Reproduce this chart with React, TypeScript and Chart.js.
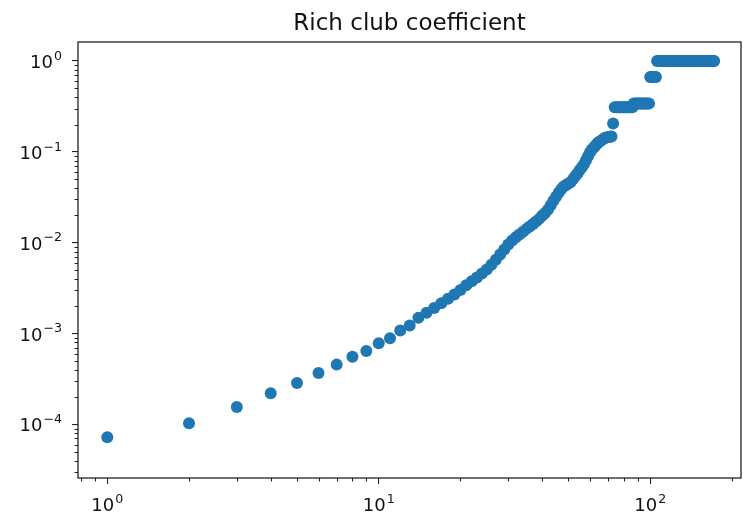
import { useEffect, useRef } from "react";
import { Chart, registerables } from "chart.js";

Chart.register(...registerables);

const chartTitle = "Rich club coefficient";

const degrees = [
  1, 2, 3, 4, 5, 6, 7, 8, 9, 10, 11, 12, 13, 14, 15, 16, 17, 18, 19, 20,
  21, 22, 23, 24, 25, 26, 27, 28, 29, 30, 31, 32, 33, 34, 35, 36, 37, 38, 39, 40,
  41, 42, 43, 44, 45, 46, 47, 48, 49, 50, 51, 52, 53, 54, 55, 56, 57, 58, 59, 60,
  61, 62, 63, 64, 65, 66, 67, 68, 69, 70, 71, 72, 73, 74, 75, 76, 77, 78, 79, 80,
  81, 82, 83, 84, 85, 86, 87, 88, 89, 90, 91, 92, 93, 94, 95, 96, 97, 98, 99, 100,
  101, 102, 103, 104, 105, 106, 107, 108, 109, 110, 111, 112, 113, 114, 115, 116, 117, 118, 119, 120,
  121, 122, 123, 124, 125, 126, 127, 128, 129, 130, 131, 132, 133, 134, 135, 136, 137, 138, 139, 140,
  141, 142, 143, 144, 145, 146, 147, 148, 149, 150, 151, 152, 153, 154, 155, 156, 157, 158, 159, 160,
  161, 162, 163, 164, 165, 166, 167, 168, 169, 170, 171, 172,
];

const richClub = [
  7.2e-5, 1.03e-4, 1.55e-4, 2.2e-4, 2.85e-4, 3.67e-4, 4.55e-4, 5.57e-4, 6.43e-4, 7.8e-4,
  8.9e-4, 1.08e-3, 1.23e-3, 1.49e-3, 1.69e-3, 1.91e-3, 2.15e-3, 2.41e-3, 2.69e-3, 3.01e-3,
  3.41e-3, 3.77e-3, 4.13e-3, 4.58e-3, 5.06e-3, 5.73e-3, 6.5e-3, 7.41e-3, 8.43e-3, 9.55e-3,
  1.06e-2, 1.15e-2, 1.23e-2, 1.32e-2, 1.42e-2, 1.51e-2, 1.61e-2, 1.71e-2, 1.83e-2, 1.98e-2,
  2.13e-2, 2.3e-2, 2.59e-2, 2.9e-2, 3.21e-2, 3.54e-2, 3.88e-2, 4.15e-2, 4.31e-2, 4.48e-2,
  4.67e-2, 5.04e-2, 5.41e-2, 5.82e-2, 6.3e-2, 6.79e-2, 7.33e-2, 8.07e-2, 8.93e-2, 9.89e-2,
  0.106, 0.112, 0.118, 0.125, 0.129, 0.133, 0.138, 0.142, 0.144, 0.146,
  0.147, 0.148, 0.205, 0.31, 0.31, 0.31, 0.31, 0.31, 0.31, 0.31,
  0.31, 0.31, 0.31, 0.31, 0.31, 0.31, 0.34, 0.34, 0.34, 0.34,
  0.34, 0.34, 0.34, 0.34, 0.34, 0.34, 0.34, 0.34, 0.34, 0.667,
  0.667, 0.667, 0.667, 0.667, 0.667, 1, 1, 1, 1, 1,
  1, 1, 1, 1, 1, 1, 1, 1, 1, 1,
  1, 1, 1, 1, 1, 1, 1, 1, 1, 1,
  1, 1, 1, 1, 1, 1, 1, 1, 1, 1,
  1, 1, 1, 1, 1, 1, 1, 1, 1, 1,
  1, 1, 1, 1, 1, 1, 1, 1, 1, 1,
  1, 1, 1, 1, 1, 1, 1, 1, 1, 1,
  1, 1,
];

const xTickValues = [1, 10, 100];
const xTickExponents = ["0", "1", "2"];
const yTickValues = [1e-4, 1e-3, 1e-2, 1e-1, 1];
const yTickExponents = ["\u22124", "\u22123", "\u22122", "\u22121", "0"];

const X_MIN = 0.78;
const X_MAX = 216;
const Y_MIN = 2.57e-5;
const Y_MAX = 1.62;

const FONT = "'DejaVu Sans', sans-serif";
const AXIS_COLOR = "#222";
const TEXT_COLOR = "#111";
const BASE_SIZE = 18;
const SUP_SIZE = 12.6;

function drawPower(ctx: CanvasRenderingContext2D, exp: string, x: number, baseline: number, align: "right" | "center") {
  ctx.font = `${BASE_SIZE}px ${FONT}`;
  const wb = ctx.measureText("10").width;
  ctx.font = `${SUP_SIZE}px ${FONT}`;
  const we = ctx.measureText(exp).width;
  const total = wb + we + 1;
  const start = align === "right" ? x - total : x - total / 2;
  ctx.textAlign = "left";
  ctx.textBaseline = "alphabetic";
  ctx.font = `${BASE_SIZE}px ${FONT}`;
  ctx.fillText("10", start, baseline);
  ctx.font = `${SUP_SIZE}px ${FONT}`;
  ctx.fillText(exp, start + wb + 1, baseline - 0.46 * BASE_SIZE);
}

const frameTicksLabels = {
  id: "frameTicksLabels",
  afterDraw(chart: any) {
    const { ctx, chartArea: a, scales } = chart;
    const xs = scales.x;
    const ys = scales.y;
    const minorLen = 3.5;
    ctx.save();
    ctx.strokeStyle = AXIS_COLOR;
    ctx.lineWidth = 1.1;
    ctx.beginPath();
    for (let e = -1; e <= 3; e++) {
      for (let m = 2; m <= 9; m++) {
        const v = m * Math.pow(10, e);
        if (v < X_MIN || v > X_MAX) continue;
        const px = Math.round(xs.getPixelForValue(v)) + 0.5;
        ctx.moveTo(px, a.bottom);
        ctx.lineTo(px, a.bottom + minorLen);
      }
    }
    for (let e = -6; e <= 0; e++) {
      for (let m = 2; m <= 9; m++) {
        const v = m * Math.pow(10, e);
        if (v < Y_MIN || v > Y_MAX) continue;
        const py = Math.round(ys.getPixelForValue(v)) + 0.5;
        ctx.moveTo(a.left, py);
        ctx.lineTo(a.left - minorLen, py);
      }
    }
    ctx.stroke();
    ctx.lineWidth = 1.3;
    ctx.strokeRect(a.left, a.top, a.right - a.left, a.bottom - a.top);

    ctx.fillStyle = TEXT_COLOR;
    xTickValues.forEach((v, i) => {
      const px = xs.getPixelForValue(v);
      drawPower(ctx, xTickExponents[i], px, a.bottom + 33, "center");
    });
    yTickValues.forEach((v, i) => {
      const py = ys.getPixelForValue(v);
      drawPower(ctx, yTickExponents[i], a.left - 16, py + 7, "right");
    });
    ctx.restore();
  },
};

export default function App() {
  const canvasRef = useRef<HTMLCanvasElement | null>(null);

  useEffect(() => {
    document.body.style.margin = "0";
    const canvas = canvasRef.current;
    if (!canvas) return;
    const points = degrees.map((k, i) => ({ x: k, y: richClub[i] }));
    const chart = new Chart(canvas, {
      type: "scatter",
      data: {
        datasets: [
          {
            data: points,
            backgroundColor: "#1f77b4",
            borderWidth: 0,
            pointRadius: 6,
            pointHoverRadius: 6,
          },
        ],
      },
      plugins: [frameTicksLabels],
      options: {
        animation: false,
        responsive: false,
        devicePixelRatio: 1,
        layout: { padding: { left: 0, right: 3, top: 0, bottom: 0 } },
        plugins: {
          legend: { display: false },
          tooltip: { enabled: false },
          title: {
            display: true,
            text: chartTitle,
            fullSize: false,
            color: TEXT_COLOR,
            font: { family: FONT, size: 23, weight: "normal" },
            padding: { top: 10.2, bottom: 4.2 },
          },
        },
        scales: {
          x: {
            type: "logarithmic",
            min: X_MIN,
            max: X_MAX,
            border: { display: false },
            grid: {
              display: true,
              drawOnChartArea: false,
              drawTicks: true,
              tickLength: 6,
              color: AXIS_COLOR,
              lineWidth: 1.1,
            },
            afterBuildTicks: (s: any) => {
              s.ticks = xTickValues.map((v) => ({ value: v }));
            },
            afterFit: (s: any) => {
              s.height = 39;
            },
            ticks: {
              display: false,
              autoSkip: false,
              maxRotation: 0,
            },
          },
          y: {
            type: "logarithmic",
            min: Y_MIN,
            max: Y_MAX,
            border: { display: false },
            grid: {
              display: true,
              drawOnChartArea: false,
              drawTicks: true,
              tickLength: 6,
              color: AXIS_COLOR,
              lineWidth: 1.1,
            },
            afterBuildTicks: (s: any) => {
              s.ticks = yTickValues.map((v) => ({ value: v }));
            },
            afterFit: (s: any) => {
              s.width = 78;
            },
            ticks: {
              display: false,
              autoSkip: false,
            },
          },
        },
      },
    });
    return () => chart.destroy();
  }, []);

  return (
    <div style={{ width: 747, height: 517, background: "#fff" }}>
      <canvas ref={canvasRef} width={747} height={517} style={{ display: "block" }} />
    </div>
  );
}
